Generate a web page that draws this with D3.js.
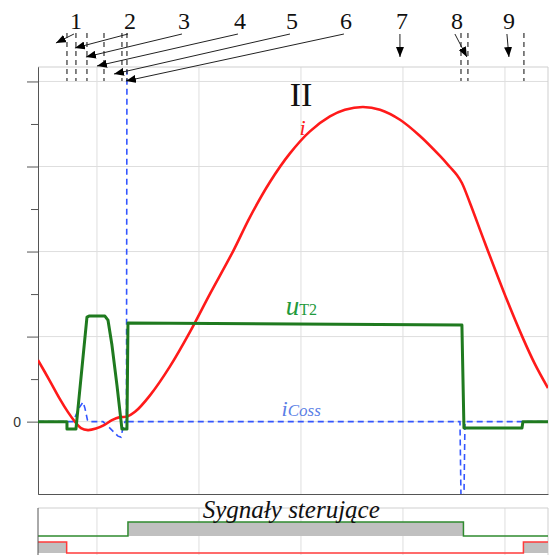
<!DOCTYPE html>
<html><head><meta charset="utf-8">
<script src="https://cdn.jsdelivr.net/npm/d3@7"></script>
<style>body{margin:0;background:#fff}svg{display:block}</style>
</head><body>
<script>
// ---- data ----
const redT = [-0.578,-0.461,-0.363,-0.284,-0.216,-0.157,-0.088,-0.01,0.069,0.147,0.225,0.294,0.373,0.52,0.716,0.912,1.108,1.333,1.5,1.696,1.892,2.088,2.284,2.431,2.608,2.775,2.971,3.167,3.363,3.461,3.529,3.578,3.657,3.804,4.02,4.176,4.294,4.422];
const redV = [0.724,0.477,0.265,0.112,0,-0.076,-0.1,-0.082,-0.041,0.018,0.053,0.059,0.115,0.309,0.65,1.056,1.503,2.0,2.406,2.818,3.154,3.413,3.588,3.667,3.7,3.668,3.55,3.359,3.124,2.994,2.9,2.806,2.571,2.1,1.429,0.982,0.676,0.394];
const greenT = [-0.578,-0.294,-0.294,-0.206,-0.098,-0.078,0.078,0.108,0.147,0.196,0.245,0.294,0.304,3.578,3.598,4.167,4.176,4.422];
const greenV = [0,0,-0.088,-0.088,1.229,1.241,1.241,1.194,0.9,0.429,-0.088,-0.088,1.159,1.135,-0.076,-0.076,0,0];
const blueT = [-0.578,-0.235,-0.176,-0.137,-0.118,-0.093,-0.078,0.059,0.127,0.206,0.235,0.255,0.275,0.289,0.294,0.298,0.302,3.559,3.569,3.598,3.608,4.422];
const blueV = [0,0,0.159,0.229,0.159,0.018,0,0,-0.076,-0.171,-0.182,-0.076,0,0,4.135,null,0,0,-0.9,-0.9,0,0];
const markerT = [-0.294,-0.206,-0.098,0.069,0.245,0.294,3.569,3.637,4.186];
const eventLabels = ["1","2","3","4","5","6","7","8","9"];
const labelT = [-0.206,0.324,0.853,1.402,1.912,2.441,2.99,3.529,4.039];
const arrowTipT = [-0.402,-0.216,-0.108,0,0.167,0.284,2.971,3.627,4.039];
const arrowTipY = [43,48,57,66,74,81,57,57,57];
const gridT = [0,1,2,3,4];
const majorV = [0,1,2,3,4];
const minorV = [0.5,1.5,2.5,3.5];
const sigT = [-0.578,-0.297,0.304,3.593,4.181,4.422];
const sigGreen = [0,0,1,0,0,0];
const sigRed = [1,0,0,0,1,1];

// ---- layout ----
const W=549,H=555;
const svg=d3.select("body").append("svg").attr("width",W).attr("height",H);
const x=d3.scaleLinear().domain([-0.578,4.422]).range([38,548]);
const y=d3.scaleLinear().domain([-0.851,4.17]).range([494,67]);
const pT=67,pB=494,pL=38,pR=548;
const serif="'Liberation Serif','Times New Roman',serif";

// defs
const defs=svg.append("defs");
defs.append("clipPath").attr("id","clip").append("rect").attr("x",pL).attr("y",pT).attr("width",pR-pL).attr("height",pB-pT);
defs.append("marker").attr("id","ah").attr("viewBox","0 0 10 8").attr("refX",10).attr("refY",4)
 .attr("markerWidth",10).attr("markerHeight",8).attr("markerUnits","userSpaceOnUse").attr("orient","auto")
 .append("path").attr("d","M0,0L10,4L0,8Z").attr("fill","#000");

// grid
const g=svg.append("g");
g.selectAll(".vg").data(gridT).join("line").attr("x1",d=>x(d)).attr("x2",d=>x(d)).attr("y1",pT).attr("y2",pB).attr("stroke","#dedede");
g.selectAll(".hg").data(majorV).join("line").attr("x1",pL).attr("x2",pR).attr("y1",d=>y(d)).attr("y2",d=>y(d)).attr("stroke","#dedede");
g.append("line").attr("x1",pL).attr("x2",pR).attr("y1",pT).attr("y2",pT).attr("stroke","#cfcfcf");
g.append("line").attr("x1",pR).attr("x2",pR).attr("y1",pT).attr("y2",pB).attr("stroke","#cfcfcf");

// axes
svg.append("g").attr("transform",`translate(${pL},0)`)
 .call(d3.axisLeft(y).tickValues(majorV).tickSize(11).tickSizeOuter(0).tickPadding(6).tickFormat(d=>d===0?"0":""))
 .call(a=>{a.select(".domain").attr("stroke","#555");a.selectAll(".tick line").attr("stroke","#555");
   a.selectAll("text").attr("font-family","'Liberation Sans',Arial,sans-serif").attr("font-size",14).attr("fill","#333");});
svg.append("g").attr("transform",`translate(${pL},0)`)
 .call(d3.axisLeft(y).tickValues(minorV).tickSize(7).tickSizeOuter(0).tickFormat(""))
 .call(a=>{a.select(".domain").attr("stroke","#555");a.selectAll(".tick line").attr("stroke","#555");});
svg.append("g").attr("transform",`translate(0,${pB})`)
 .call(d3.axisBottom(x).tickValues([]).tickSizeOuter(0))
 .call(a=>a.select(".domain").attr("stroke","#555"));

// curves
const plot=svg.append("g").attr("clip-path","url(#clip)");
const lineFn=(T,V,curve)=>d3.line().defined((d,i)=>V[i]!==null).x((d,i)=>x(T[i])).y((d,i)=>y(V[i])).curve(curve)(T);
plot.append("path").attr("d",lineFn(blueT,blueV,d3.curveLinear)).attr("fill","none").attr("stroke","#3355ff").attr("stroke-width",1.6).attr("stroke-dasharray","6,4");
plot.append("path").attr("d",lineFn(redT,redV,d3.curveCatmullRom)).attr("fill","none").attr("stroke","#ff1a1a").attr("stroke-width",2.6);
plot.append("path").attr("d",lineFn(greenT,greenV,d3.curveLinear)).attr("fill","none").attr("stroke","#1f7a1f").attr("stroke-width",3).attr("stroke-linejoin","round");

// event markers
svg.selectAll(".mk").data(markerT).join("line").attr("x1",d=>x(d)).attr("x2",d=>x(d)).attr("y1",33).attr("y2",81)
 .attr("stroke","#333").attr("stroke-width",1.2).attr("stroke-dasharray","5,4");
svg.selectAll(".lb").data(eventLabels).join("text").attr("x",(d,i)=>x(labelT[i])).attr("y",29).attr("text-anchor","middle")
 .attr("font-family",serif).attr("font-size",24).attr("fill","#111").text(d=>d);
svg.selectAll(".ar").data(eventLabels).join("line").attr("x1",(d,i)=>x(labelT[i])-2).attr("y1",34)
 .attr("x2",(d,i)=>x(arrowTipT[i])).attr("y2",(d,i)=>arrowTipY[i]).attr("stroke","#222").attr("stroke-width",1).attr("marker-end","url(#ah)");

// text labels
svg.append("text").attr("x",x(2.0)).attr("y",106).attr("text-anchor","middle").attr("font-family",serif).attr("font-size",34).attr("fill","#111").text("II");
svg.append("text").attr("x",x(2.016)).attr("y",135).attr("text-anchor","middle").attr("font-family",serif).attr("font-style","italic").attr("font-size",22).attr("fill","#ff2020").text("i");
const ut=svg.append("text").attr("x",x(1.85)).attr("y",315).attr("font-family",serif).attr("fill","#1f9a3c");
ut.append("tspan").attr("font-style","italic").attr("font-size",27).text("u");
ut.append("tspan").attr("font-size",16).text("T2");
const ic=svg.append("text").attr("x",x(1.81)).attr("y",416).attr("font-family",serif).attr("font-style","italic").attr("fill","#5b80e6");
ic.append("tspan").attr("font-size",22).text("i");
ic.append("tspan").attr("font-size",17).text("Coss");

// signals panel
const sTop=508,sBot=555;
const yG=d3.scaleLinear().domain([0,1]).range([536,522]);
const yR=d3.scaleLinear().domain([0,1]).range([553,542]);
const p=svg.append("g");
p.selectAll(".pg").data(gridT).join("line").attr("x1",d=>x(d)).attr("x2",d=>x(d)).attr("y1",sTop).attr("y2",sBot).attr("stroke","#dedede");
p.append("line").attr("x1",pL).attr("x2",pR).attr("y1",sTop).attr("y2",sTop).attr("stroke","#cfcfcf");
p.append("line").attr("x1",pR).attr("x2",pR).attr("y1",sTop).attr("y2",sBot).attr("stroke","#cfcfcf");
const areaFn=(S,ys)=>d3.area().x((d,i)=>x(sigT[i])).y0(ys(0)).y1((d,i)=>ys(S[i])).curve(d3.curveStepAfter)(sigT);
const sigLine=(S,ys)=>d3.line().x((d,i)=>x(sigT[i])).y((d,i)=>ys(S[i])).curve(d3.curveStepAfter)(sigT);
p.append("path").attr("d",areaFn(sigGreen,yG)).attr("fill","#c0c0c0");
p.append("path").attr("d",areaFn(sigRed,yR)).attr("fill","#c0c0c0");
p.append("path").attr("d",sigLine(sigGreen,yG)).attr("fill","none").attr("stroke","#2f8a2f").attr("stroke-width",1.5);
p.append("path").attr("d",sigLine(sigRed,yR)).attr("fill","none").attr("stroke","#ff3b3b").attr("stroke-width",1.5);
p.append("line").attr("x1",pL).attr("x2",pL).attr("y1",sTop).attr("y2",sBot).attr("stroke","#555");
p.append("text").attr("x",x(1.905)).attr("y",518).attr("text-anchor","middle").attr("font-family",serif).attr("font-style","italic").attr("font-size",25).attr("fill","#111").text("Sygnały sterujące");
</script>
</body></html>
